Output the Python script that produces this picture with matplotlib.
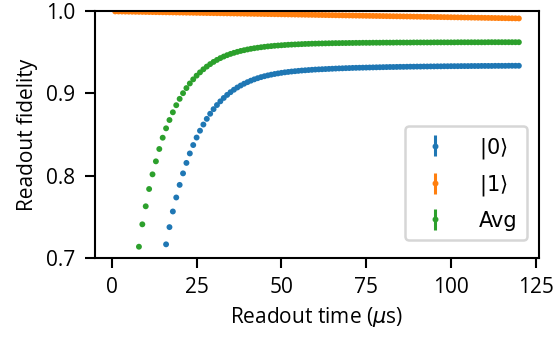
import numpy as np
import matplotlib.pyplot as plt

# readout time (us) of the first point of each trace, 1 us steps up to 120
t_end = 120
t0_start = 16   # |0>
t1_start = 1    # |1>
tavg_start = 8  # Avg

fid0 = [
    .7166, .7375, .7565, .7735, .7888, .8028, .8155, .8270, .8372, .8463,
    .8546, .8621, .8690, .8752, .8808, .8858, .8903, .8944, .8981, .9014,
    .9044, .9071, .9095, .9117, .9136, .9154, .9170, .9184, .9197, .9208,
    .9218, .9227, .9235, .9242, .9249, .9255, .9260, .9265, .9269, .9273,
    .9277, .9280, .9283, .9286, .9289, .9291, .9293, .9295, .9297, .9299,
    .9301, .9303, .9304, .9306, .9307, .9309, .9310, .9311, .9312, .9313,
    .9314, .9315, .9316, .9317, .9318, .9319, .9320, .9320, .9321, .9322,
    .9322, .9323, .9324, .9324, .9325, .9325, .9326, .9326, .9327, .9327,
    .9328, .9328, .9329, .9329, .9330, .9330, .9330, .9331, .9331, .9331,
    .9332, .9332, .9332, .9333, .9333, .9333, .9333, .9334, .9334, .9334,
    .9334, .9335, .9335, .9335, .9335,
]

fid1 = [
    .99950, .99943, .99936, .99929, .99921, .99914, .99907, .99900, .99893, .99886,
    .99879, .99871, .99864, .99857, .99850, .99843, .99836, .99829, .99821, .99814,
    .99807, .99800, .99793, .99786, .99779, .99771, .99764, .99757, .99750, .99743,
    .99736, .99729, .99721, .99714, .99707, .99700, .99693, .99686, .99679, .99671,
    .99664, .99657, .99650, .99643, .99636, .99629, .99621, .99614, .99607, .99600,
    .99593, .99586, .99579, .99571, .99564, .99557, .99550, .99543, .99536, .99529,
    .99521, .99514, .99507, .99500, .99493, .99486, .99479, .99471, .99464, .99457,
    .99450, .99443, .99436, .99429, .99421, .99414, .99407, .99400, .99393, .99386,
    .99379, .99371, .99364, .99357, .99350, .99343, .99336, .99329, .99321, .99314,
    .99307, .99300, .99293, .99286, .99279, .99271, .99264, .99257, .99250, .99243,
    .99236, .99229, .99221, .99214, .99207, .99200, .99193, .99186, .99179, .99171,
    .99164, .99157, .99150, .99143, .99136, .99129, .99121, .99114, .99107, .99100,
]

fid_avg = [
    .7137, .7409, .7628, .7838, .8016, .8174, .8324, .8461, .8575, .8676,
    .8770, .8856, .8933, .9002, .9064, .9120, .9170, .9215, .9255, .9292,
    .9325, .9355, .9382, .9406, .9428, .9447, .9464, .9479, .9492, .9504,
    .9515, .9524, .9533, .9541, .9548, .9554, .9560, .9565, .9570, .9574,
    .9578, .9581, .9584, .9587, .9590, .9592, .9594, .9596, .9598, .9600,
    .9601, .9603, .9604, .9605, .9606, .9607, .9608, .9609, .9610, .9610,
    .9611, .9611, .9612, .9612, .9613, .9613, .9614, .9614, .9614, .9615,
    .9615, .9615, .9616, .9616, .9616, .9616, .9617, .9617, .9617, .9617,
    .9617, .9618, .9618, .9618, .9618, .9618, .9618, .9619, .9619, .9619,
    .9619, .9619, .9619, .9619, .9620, .9620, .9620, .9620, .9620, .9620,
    .9620, .9620, .9620, .9621, .9621, .9621, .9621, .9621, .9621, .9621,
    .9621, .9621, .9621,
]

labels = [r'$|0\rangle$', r'$|1\rangle$', 'Avg']
yticks = [0.7, 0.8, 0.9, 1.0]
xticks = [0, 25, 50, 75, 100, 125]

plt.rcParams['font.family'] = ['Open Sans', 'DejaVu Sans']
plt.rcParams['mathtext.fontset'] = 'dejavusans'

fig = plt.figure(figsize=(5.54, 3.41), dpi=100)
ax = fig.add_axes([0.1715, 0.2434, 0.8015, 0.7243])

series = [(t0_start, fid0), (t1_start, fid1), (tavg_start, fid_avg)]
for (start, vals), lab, c in zip(series, labels, ['C0', 'C1', 'C2']):
    t = np.arange(start, t_end + 1)
    # scatter keeps sub-pixel positions (Agg snaps plain line markers)
    ax.scatter(t, vals, s=18, color=c, edgecolors='none')
    # empty errorbar just for the legend entry
    ax.errorbar([], [], yerr=[], fmt='.', color=c, ms=6.5,
                elinewidth=2.2, label=lab)

ax.set_xlim(-4.95, 125.95)
ax.set_ylim(0.7, 1.0)
ax.set_xticks(xticks)
ax.set_yticks(yticks)
ax.set_xlabel(r'Readout time ($\mu$s)', fontsize=15, labelpad=5)
ax.set_ylabel('Readout fidelity', fontsize=15, labelpad=6)
ax.tick_params(labelsize=15, length=7, width=1.5, pad=7)
for s in ax.spines.values():
    s.set_linewidth(1.5)

leg = ax.legend(loc='lower right', prop={'family': 'DejaVu Sans', 'size': 15},
                labelspacing=0.6, handletextpad=1.1, borderpad=0.45,
                bbox_to_anchor=(0.996, 0.031))
leg.get_frame().set_linewidth(1.8)

fig.savefig('out.png', dpi=100)
